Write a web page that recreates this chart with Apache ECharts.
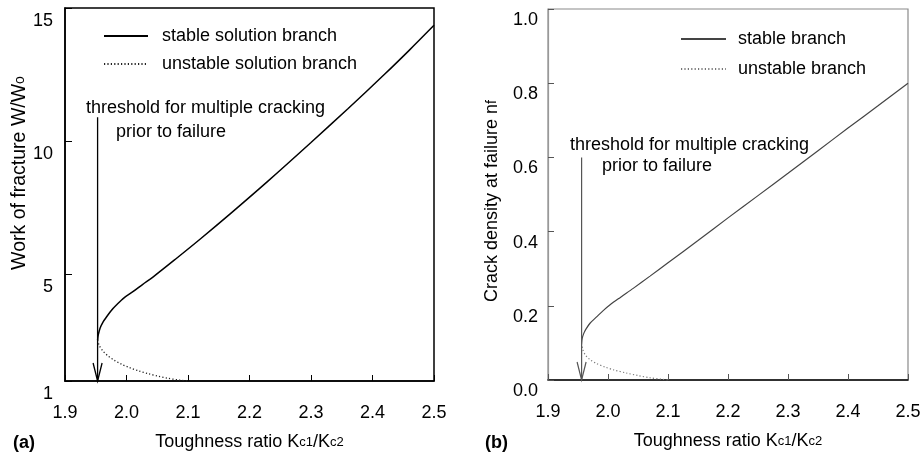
<!DOCTYPE html>
<html><head><meta charset="utf-8">
<script src="https://cdn.jsdelivr.net/npm/echarts@6/dist/echarts.min.js"></script>
<style>html,body{margin:0;padding:0;background:#fff}#c{width:924px;height:455px}</style>
</head><body><div id="c"></div>
<script>
// ---- data ----
const xTicks = [1.9, 2.0, 2.1, 2.2, 2.3, 2.4, 2.5];
const yTicksA = [1, 5, 10, 15];
const yTicksB = [0, 0.2, 0.4, 0.6, 0.8, 1.0];

// (a) work of fracture W/Wo
const stableAx = [1.953, 1.954, 1.957, 1.962, 1.968, 1.975, 1.984, 1.996, 2.011, 2.026, 2.044, 2.080, 2.120, 2.170, 2.230, 2.300, 2.360, 2.420, 2.460, 2.500];
const stableAy = [2.54, 2.72, 2.98, 3.22, 3.42, 3.64, 3.86, 4.12, 4.36, 4.62, 4.92, 5.58, 6.33, 7.30, 8.50, 9.95, 11.22, 12.52, 13.42, 14.35];
const unstableAx = [1.953, 1.956, 1.962, 1.970, 1.980, 1.992, 2.005, 2.020, 2.036, 2.052, 2.068, 2.084, 2.100];
const unstableAy = [2.54, 2.32, 2.12, 1.94, 1.78, 1.63, 1.50, 1.38, 1.27, 1.18, 1.10, 1.04, 1.00];

// (b) crack density at failure nf
const stableBx = [1.956, 1.957, 1.960, 1.964, 1.970, 1.981, 1.992, 2.003, 2.020, 2.042, 2.070, 2.100, 2.150, 2.200, 2.250, 2.300, 2.350, 2.400, 2.450, 2.500];
const stableBy = [0.099, 0.112, 0.127, 0.139, 0.153, 0.170, 0.187, 0.202, 0.222, 0.247, 0.280, 0.316, 0.376, 0.437, 0.497, 0.557, 0.618, 0.679, 0.739, 0.800];
const unstableBx = [1.956, 1.958, 1.962, 1.970, 1.980, 1.995, 2.010, 2.030, 2.050, 2.070, 2.090, 2.100];
const unstableBy = [0.099, 0.082, 0.068, 0.055, 0.045, 0.035, 0.027, 0.019, 0.012, 0.006, 0.002, 0.000];

// threshold arrows: [x, yTop]
const thresholdA = [1.953, 10.9];
const thresholdB = [1.956, 0.60];

const FONT = 'Liberation Sans, Arial, Helvetica, sans-serif';
const pairs = (xs, ys) => xs.map((x, i) => [x, ys[i]]);

const chart = echarts.init(document.getElementById('c'), null, {renderer: 'canvas'});

function xAxisCfg(gi, lineColor, tickColor) {
  return {
    type: 'value', gridIndex: gi, min: 1.9, max: 2.5, interval: 0.1,
    name: 'Toughness ratio K{sub|c1}/K{sub|c2}',
    nameLocation: 'middle', nameGap: 50,
    nameTextStyle: {color: '#000', fontSize: 18, fontFamily: FONT, lineHeight: 22,
      rich: {sub: {fontSize: 13, lineHeight: 8, fontFamily: FONT, color: '#000'}}},
    axisLine: {show: true, lineStyle: {color: lineColor, width: 1.5}},
    axisTick: {show: true, inside: true, length: 6, lineStyle: {color: tickColor, width: 1}},
    axisLabel: {color: '#000', fontSize: 18, fontFamily: FONT, margin: 23,
      customValues: xTicks, formatter: v => v.toFixed(1)},
    splitLine: {show: false}
  };
}

const lineSeries = (name, gi, xs, ys, color, width, type) => ({
  name: name, type: 'line', xAxisIndex: gi, yAxisIndex: gi, symbol: 'none',
  smooth: 0.3, data: pairs(xs, ys),
  lineStyle: {color: color, width: width, type: type || 'solid'}, itemStyle: {color: color}
});

chart.setOption({
  animation: false,
  backgroundColor: '#fff',
  grid: [
    {left: 65, right: 490, top: 8, bottom: 74, outerBoundsMode: 'none', containLabel: false,
      show: true, borderColor: '#000', borderWidth: 1.5, backgroundColor: 'transparent'},
    {left: 548, right: 16, top: 9, bottom: 75, outerBoundsMode: 'none', containLabel: false,
      show: true, borderColor: '#8a8a8a', borderWidth: 1.2, backgroundColor: 'transparent'}
  ],
  xAxis: [xAxisCfg(0, '#000', '#000'), xAxisCfg(1, '#000', '#555')],
  yAxis: [
    {type: 'value', gridIndex: 0, min: 1, max: 15,
      axisLine: {show: true, lineStyle: {color: '#000', width: 1.5}},
      axisTick: {show: true, inside: true, length: 7, customValues: yTicksA, lineStyle: {color: '#000'}},
      axisLabel: {color: '#000', fontSize: 18, fontFamily: FONT, margin: 12, verticalAlign: 'top', lineHeight: 26,
        customValues: yTicksA, formatter: v => String(v)},
      splitLine: {show: false}},
    {type: 'value', gridIndex: 1, min: 0, max: 1, interval: 0.2,
      axisLine: {show: true, lineStyle: {color: '#999', width: 1.2}},
      axisTick: {show: true, inside: true, length: 6, lineStyle: {color: '#555'}},
      axisLabel: {color: '#000', fontSize: 18, fontFamily: FONT, margin: 10, verticalAlign: 'top', lineHeight: 22,
        customValues: yTicksB, formatter: v => v.toFixed(1)},
      splitLine: {show: false}}
  ],
  legend: [
    {orient: 'vertical', left: 98, top: 22, itemWidth: 44, itemHeight: 14, itemGap: 10,
      selectedMode: false, data: ['stable solution branch', 'unstable solution branch'],
      itemStyle: {opacity: 0},
      textStyle: {color: '#000', fontSize: 18, fontFamily: FONT, lineHeight: 18, padding: [0, 0, 0, 9]}},
    {orient: 'vertical', left: 675, top: 25, itemWidth: 45, itemHeight: 14, itemGap: 12,
      selectedMode: false, data: ['stable branch', 'unstable branch'],
      itemStyle: {opacity: 0},
      textStyle: {color: '#000', fontSize: 18, fontFamily: FONT, lineHeight: 18, padding: [0, 0, 0, 7]}}
  ],
  series: [
    lineSeries('stable solution branch', 0, stableAx, stableAy, '#000', 1.5),
    lineSeries('unstable solution branch', 0, unstableAx, unstableAy, '#222', 1.3, [1.2, 2.2]),
    lineSeries('stable branch', 1, stableBx, stableBy, '#444', 1.2),
    lineSeries('unstable branch', 1, unstableBx, unstableBy, '#777', 1.2, [1.2, 2.2])
  ]
});

// annotations positioned through the axes
function arrow(gi, pt, yBottom, color, w) {
  const top = chart.convertToPixel({gridIndex: gi}, pt);
  const bot = chart.convertToPixel({gridIndex: gi}, [pt[0], yBottom]);
  return [
    {type: 'line', shape: {x1: top[0], y1: top[1], x2: bot[0], y2: bot[1]}, style: {stroke: color, lineWidth: w}, z: 10},
    {type: 'polyline', shape: {points: [[bot[0] - 4.5, bot[1] - 18], [bot[0], bot[1]], [bot[0] + 4.5, bot[1] - 18]]},
      style: {stroke: color, lineWidth: w, fill: null}, z: 10}
  ];
}
function txt(x, y, text, extra) {
  return Object.assign({type: 'text', x: x, y: y, z: 10,
    style: Object.assign({text: text, fontSize: 18, fontFamily: FONT, fill: '#000', verticalAlign: 'middle'}, extra || {})});
}
const sub = (fs) => ({sub: {fontSize: fs, lineHeight: 8, fontFamily: FONT, fill: '#000'}});
chart.setOption({
  graphic: [].concat(
    arrow(0, thresholdA, 1, '#000', 1.3),
    arrow(1, thresholdB, 0, '#555', 1.2),
    [
      txt(86, 108, 'threshold for multiple cracking'),
      txt(116, 132, 'prior to failure'),
      txt(570, 145, 'threshold for multiple cracking'),
      txt(602, 166, 'prior to failure'),
      {type: 'text', x: 20, y: 173, rotation: Math.PI / 2, z: 10,
        style: {text: 'Work of fracture W/W{sub|o}', fontSize: 19.5, lineHeight: 22, fontFamily: FONT, fill: '#000',
          align: 'center', verticalAlign: 'middle', rich: sub(14)}},
      {type: 'text', x: 492, y: 201, rotation: Math.PI / 2, z: 10,
        style: {text: 'Crack density at failure n{sub|f}', fontSize: 18, lineHeight: 22, fontFamily: FONT, fill: '#000',
          align: 'center', verticalAlign: 'middle', rich: sub(14)}},
      txt(13, 443, '(a)', {fontWeight: 'bold'}),
      txt(485, 443, '(b)', {fontWeight: 'bold'})
    ]
  )
});
</script>
</body></html>
